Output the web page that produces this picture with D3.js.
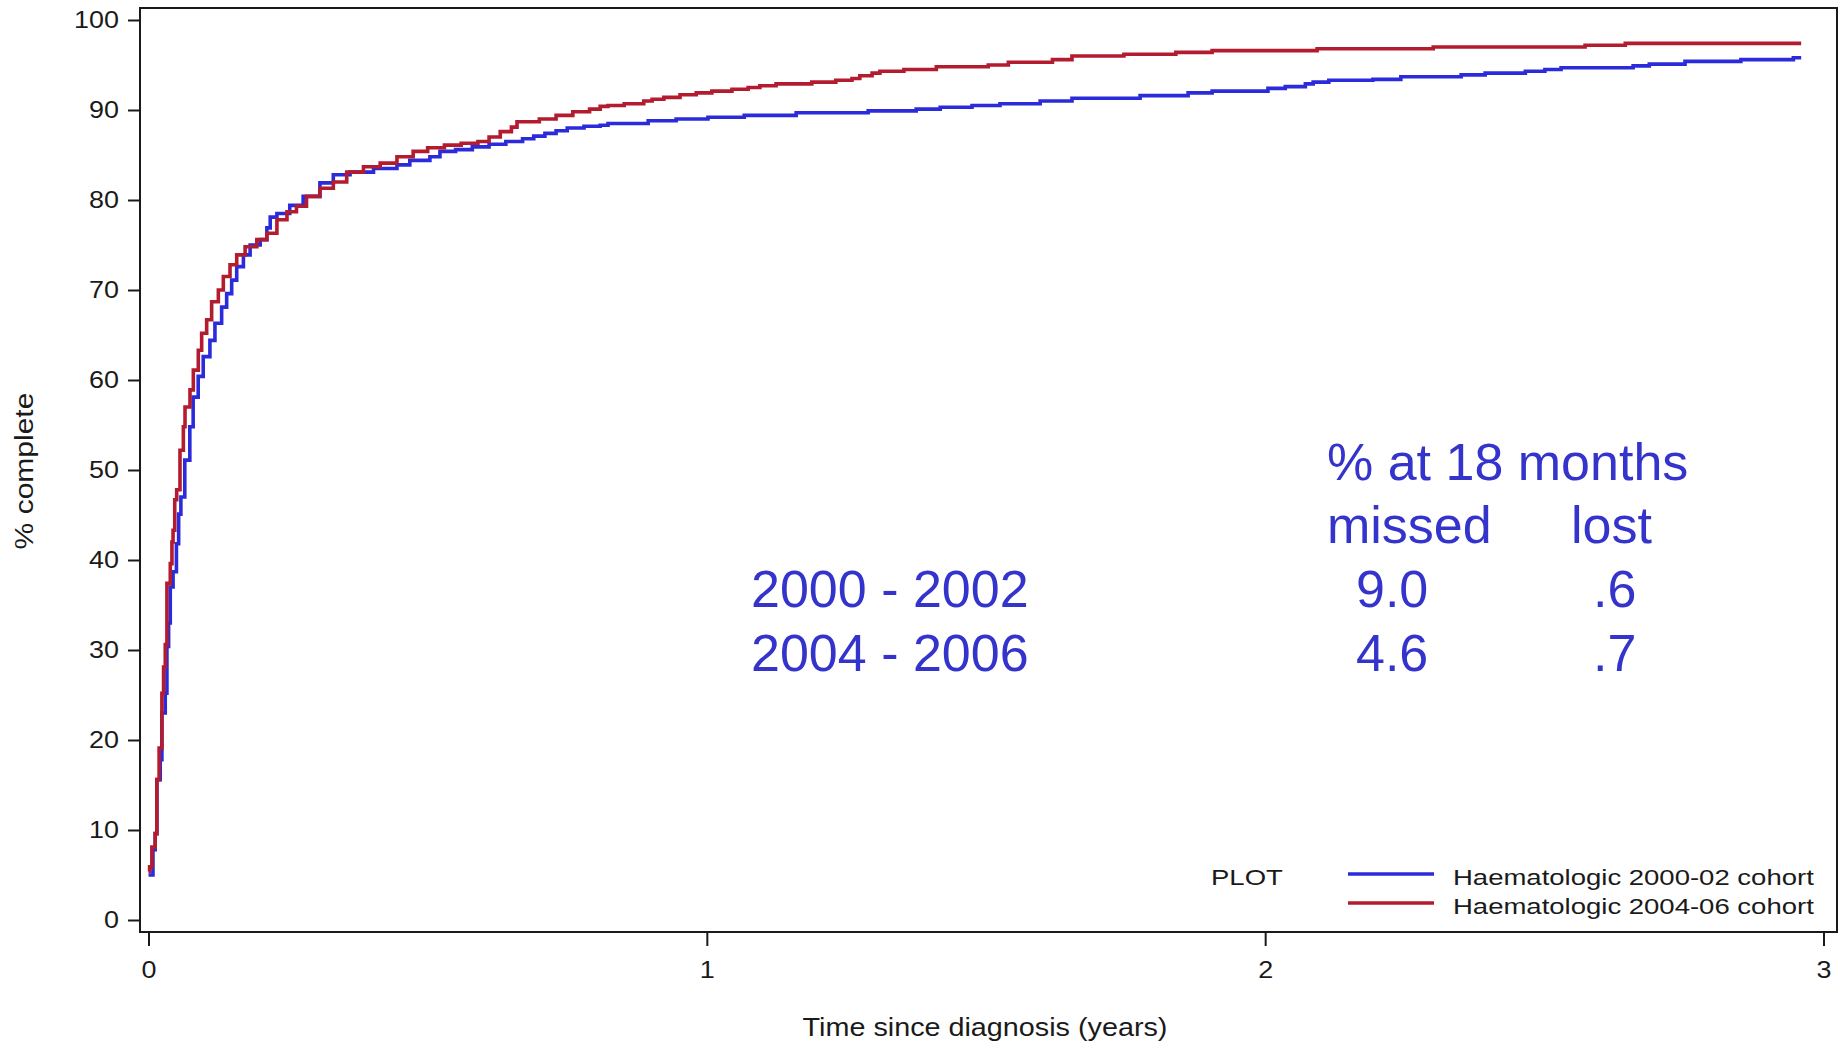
<!DOCTYPE html>
<meta charset="utf-8">
<style>
body { margin: 0; background: #fff; font-family: "Liberation Sans", Arial, sans-serif; }
.axis text { fill: #1a1a1a; font-size: 23px; }
.axis path, .axis line { stroke: #1a1a1a; stroke-width: 2; }
.frame { fill: none; stroke: #1a1a1a; stroke-width: 2; }
.curve { fill: none; stroke-width: 3.6; }
.note { fill: #3434cc; font-size: 52px; }
</style>
<svg width="1846" height="1042"></svg>
<script src="https://d3js.org/d3.v7.min.js"></script>
<script>

// [years, % complete]
var cohort2000 = [[0,5.0],[0.008,7.8],[0.012,9.6],[0.015,15.6],[0.021,17.8],[0.024,23.0],[0.030,25.2],[0.033,30.4],
  [0.036,33.0],[0.039,37.0],[0.044,38.7],[0.050,41.8],[0.054,45.1],[0.058,47.0],[0.065,51.1],[0.074,54.8],
  [0.080,58.1],[0.089,60.4],[0.098,62.6],[0.110,64.4],[0.119,66.3],[0.131,68.1],[0.140,69.6],[0.149,71.1],
  [0.158,72.6],[0.170,73.9],[0.182,75.0],[0.200,75.6],[0.212,76.9],[0.218,78.1],[0.230,78.5],[0.253,79.4],
  [0.277,80.4],[0.307,81.9],[0.331,82.8],[0.361,83.1],[0.403,83.5],[0.445,83.9],[0.468,84.4],[0.504,84.8],
  [0.522,85.4],[0.55,85.6],[0.58,85.9],[0.61,86.2],[0.64,86.5],[0.67,86.8],[0.69,87.1],[0.71,87.4],[0.73,87.7],
  [0.75,88.0],[0.78,88.2],[0.809,88.3],[0.823,88.5],[0.895,88.8],[0.945,89.0],[1.002,89.2],[1.067,89.4],
  [1.160,89.7],[1.289,89.9],[1.375,90.1],[1.418,90.3],[1.475,90.5],[1.525,90.7],[1.597,91.0],[1.654,91.3],
  [1.776,91.6],[1.862,91.9],[1.905,92.1],[2.005,92.4],[2.036,92.6],[2.072,92.9],[2.086,93.1],[2.114,93.3],
  [2.193,93.4],[2.243,93.7],[2.351,93.9],[2.394,94.1],[2.466,94.3],[2.501,94.5],[2.530,94.7],[2.659,94.9],
  [2.688,95.1],[2.752,95.4],[2.852,95.6],[2.946,95.8],[2.96,95.8]];

var cohort2004 = [[0,5.4],[0.002,5.9],[0.006,8.1],[0.012,9.6],[0.015,15.6],[0.019,19.1],[0.024,25.2],[0.027,28.1],
  [0.030,30.6],[0.033,37.4],[0.039,39.6],[0.042,42.0],[0.044,43.3],[0.047,46.7],[0.0505,47.8],[0.0564,52.2],
  [0.0624,54.8],[0.0654,57.0],[0.0743,58.9],[0.0803,61.1],[0.0892,63.3],[0.0952,65.2],[0.1042,66.7],[0.1131,68.7],
  [0.1251,70.0],[0.134,71.5],[0.146,72.8],[0.158,73.9],[0.173,74.8],[0.194,75.6],[0.212,76.3],[0.230,77.8],
  [0.248,78.7],[0.265,79.3],[0.283,80.4],[0.307,81.3],[0.331,82.0],[0.355,83.1],[0.385,83.7],[0.415,84.1],
  [0.445,84.8],[0.474,85.4],[0.50,85.8],[0.53,86.1],[0.56,86.3],[0.59,86.5],[0.61,87.0],[0.63,87.6],[0.65,88.1],
  [0.66,88.7],[0.70,89.0],[0.73,89.4],[0.76,89.8],[0.79,90.1],[0.809,90.4],[0.823,90.5],[0.852,90.7],[0.887,91.0],
  [0.902,91.2],[0.923,91.4],[0.952,91.7],[0.981,91.9],[1.009,92.1],[1.045,92.3],[1.074,92.5],[1.095,92.7],
  [1.124,92.9],[1.188,93.1],[1.231,93.3],[1.260,93.5],[1.274,93.8],[1.296,94.1],[1.310,94.3],[1.353,94.5],
  [1.411,94.8],[1.504,95.0],[1.540,95.3],[1.619,95.6],[1.654,96.0],[1.747,96.2],[1.840,96.4],[1.905,96.6],
  [2.093,96.8],[2.301,97.0],[2.573,97.2],[2.645,97.4],[2.96,97.4]];

var seriesNames = ["Haematologic 2000-02 cohort", "Haematologic 2004-06 cohort"];
var seriesColors = ["#2b2bdc", "#b31b2e"];
var yTicks = d3.range(0, 101, 10);
var xTicks = [0, 1, 2, 3];

var tableHead = ["% at 18 months"];
var tableCols = ["missed", "lost"];
var tableRows = ["2000 - 2002", "2004 - 2006"];
var missed = ["9.0", "4.6"];
var lost = [".6", ".7"];

var svg = d3.select("svg");
var frameL = 140, frameR = 1837, frameT = 8, frameB = 932;

var x = d3.scaleLinear().domain([0, 3]).range([148.5, 1823.5]);
var y = d3.scaleLinear().domain([0, 100]).range([920, 20]);

// stretch axis text a little wider, like the original export
function widen(sel, k) {
  sel.each(function() {
    var w = this.getComputedTextLength();
    d3.select(this).attr("textLength", w * k).attr("lengthAdjust", "spacingAndGlyphs");
  });
}

var gy = svg.append("g").attr("class", "axis")
    .attr("transform", "translate(" + frameL + ",0)")
    .call(d3.axisLeft(y).tickValues(yTicks).tickSize(12).tickPadding(9).tickSizeOuter(0));
gy.select(".domain").remove();
widen(gy.selectAll("text"), 1.17);

var gx = svg.append("g").attr("class", "axis")
    .attr("transform", "translate(0," + frameB + ")")
    .call(d3.axisBottom(x).tickValues(xTicks).tickFormat(d3.format("d")).tickSize(14).tickPadding(16).tickSizeOuter(0));
gx.select(".domain").remove();
widen(gx.selectAll("text"), 1.17);

svg.append("rect").attr("class", "frame")
    .attr("x", frameL).attr("y", frameT).attr("width", frameR - frameL).attr("height", frameB - frameT);

var line = d3.line()
    .x(function(d) { return x(d[0]); })
    .y(function(d) { return y(d[1]); })
    .curve(d3.curveStepAfter);

[cohort2000, cohort2004].forEach(function(s, i) {
  svg.append("path").attr("class", "curve")
    .attr("d", line(s))
    .attr("stroke", seriesColors[i]);
});

// axis titles
var xt = svg.append("text").attr("x", 985).attr("y", 1036)
    .attr("text-anchor", "middle").attr("fill", "#1a1a1a").style("font-size", "25px")
    .text("Time since diagnosis (years)");
widen(xt, 1.15);
var yt = svg.append("text").attr("transform", "translate(33,471) rotate(-90)")
    .attr("text-anchor", "middle").attr("fill", "#1a1a1a").style("font-size", "25px")
    .text("% complete");
widen(yt, 1.2);

// legend
var lg = svg.append("g");
widen(lg.append("text").attr("x", 1211).attr("y", 885).attr("fill", "#1a1a1a")
    .style("font-size", "22px").text("PLOT"), 1.25);
seriesNames.forEach(function(n, i) {
  var yy = 874 + i * 29;
  lg.append("line").attr("x1", 1348).attr("x2", 1434).attr("y1", yy).attr("y2", yy)
    .attr("stroke", seriesColors[i]).attr("stroke-width", 3.6);
  widen(lg.append("text").attr("x", 1453).attr("y", yy + 11).attr("fill", "#1a1a1a")
    .style("font-size", "22px").text(n), 1.25);
});

// overlaid table
var notes = svg.append("g");
notes.append("text").attr("class", "note").attr("x", 1327).attr("y", 480).text(tableHead[0]);
notes.append("text").attr("class", "note").attr("x", 1327).attr("y", 543).text(tableCols[0]);
notes.append("text").attr("class", "note").attr("x", 1571).attr("y", 543).text(tableCols[1]);
tableRows.forEach(function(r, i) {
  var yy = 607 + i * 64;
  notes.append("text").attr("class", "note").attr("x", 751).attr("y", yy).text(r);
  notes.append("text").attr("class", "note").attr("x", 1356).attr("y", yy).text(missed[i]);
  notes.append("text").attr("class", "note").attr("x", 1593).attr("y", yy).text(lost[i]);
});

</script>
